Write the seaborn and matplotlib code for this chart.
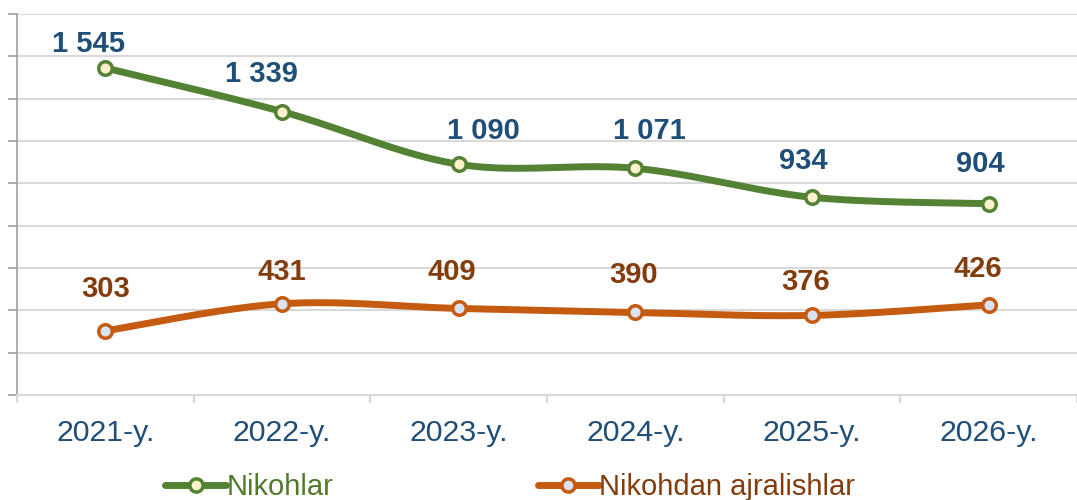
import numpy as np
import pandas as pd
import matplotlib
matplotlib.use("Agg")
import matplotlib.pyplot as plt
import seaborn as sns
from matplotlib.lines import Line2D

years = ["2021-y.", "2022-y.", "2023-y.", "2024-y.", "2025-y.", "2026-y."]
nikohlar = [1545, 1339, 1090, 1071, 934, 904]
ajralish = [303, 431, 409, 390, 376, 426]
series_names = ["Nikohlar", "Nikohdan ajralishlar"]

# label placement (pixel offsets from each point), layout only
label_dx = [[-17, -21, 25, 14, -9, -8], [0, 0, -7, -2, -6, -11]]
label_dy = [[24, 38, 33, 37, 36, 40], [42, 32, 36, 37, 33, 36]]

line_colors = ["#548235", "#C55A11"]
marker_fill = ["#FFF2CC", "#DAE3F3"]
label_colors = ["#1F4E79", "#843C0C"]
legend_text_colors = ["#4E7A2A", "#843C0C"]

sns.set_theme(style="white")
plt.rcParams['font.family'] = ['Liberation Sans', 'DejaVu Sans']

fig = plt.figure(figsize=(10.77, 5.0), dpi=100)
ax = fig.add_axes([17/1077, 1 - 395/500, 1 - 17/1077, (395 - 14)/500])


def catmull_rom(xv, yv, n=40):
    xv = np.asarray(xv, float)
    yv = np.asarray(yv, float)
    px = np.concatenate([[xv[0]], xv, [xv[-1]]])
    py = np.concatenate([[yv[0]], yv, [yv[-1]]])
    outx, outy = [], []
    t = np.linspace(0, 1, n)
    for i in range(1, len(px) - 2):
        p0, p1, p2, p3 = (np.array([px[j], py[j]]) for j in range(i - 1, i + 3))
        c1 = p1 + (p2 - p0) / 6.0
        c2 = p2 - (p3 - p1) / 6.0
        b = ((1 - t) ** 3)[:, None] * p1 + (3 * (1 - t) ** 2 * t)[:, None] * c1 \
            + (3 * (1 - t) * t ** 2)[:, None] * c2 + (t ** 3)[:, None] * p2
        outx.extend(b[:, 0])
        outy.extend(b[:, 1])
    return np.array(outx), np.array(outy)


xpos = np.arange(len(years))
ax.set_xlim(-0.5, len(years) - 0.5)
ax.set_ylim(0, 1800)

for k, vals in enumerate([nikohlar, ajralish]):
    sx, sy = catmull_rom(xpos, vals)
    df = pd.DataFrame({"x": sx, "y": sy})
    sns.lineplot(data=df, x="x", y="y", ax=ax, color=line_colors[k], lw=5.0,
                 sort=False, estimator=None, zorder=3)
    pts = pd.DataFrame({"x": xpos, "y": vals})
    sns.scatterplot(data=pts, x="x", y="y", ax=ax, s=95, color=marker_fill[k],
                    edgecolor=line_colors[k], linewidth=2.5, zorder=4)

for k, vals in enumerate([nikohlar, ajralish]):
    for i, (xi, v) in enumerate(zip(xpos, vals)):
        txt = f"{v:,}".replace(",", " ")
        ax.annotate(txt, (xi, v),
                    xytext=(label_dx[k][i] * 0.72, label_dy[k][i] * 0.72),
                    textcoords="offset points",
                    ha="center", va="center", fontsize=21, fontweight="bold",
                    color=label_colors[k], zorder=5, annotation_clip=False)

# grid / spines
ax.set_yticks(np.arange(0, 1801, 200))
ax.set_yticklabels([])
ax.yaxis.grid(True, color="#D9D9D9", lw=1.5)
ax.xaxis.grid(False)
ax.set_axisbelow(True)
for s in ["top", "right"]:
    ax.spines[s].set_visible(False)
ax.spines["left"].set_color("#A6A6A6")
ax.spines["left"].set_linewidth(1.3)
ax.spines["bottom"].set_color("#D9D9D9")
ax.spines["bottom"].set_linewidth(1.5)
ax.tick_params(axis="y", which="major", left=True, length=6.5, width=1.3, color="#A6A6A6")

ax.set_xticks(xpos)
ax.set_xticklabels(years, fontsize=21.8, color="#1F4E79")
ax.tick_params(axis="x", which="major", length=0, pad=17)
ax.set_xticks(np.arange(-0.5, len(years), 1.0), minor=True)
ax.tick_params(axis="x", which="minor", bottom=True, length=6, width=1.5, color="#D9D9D9")
ax.set_xlabel("")
ax.set_ylabel("")

handles = [Line2D([0], [0], color=line_colors[k], lw=5.0, marker="o", markersize=9.5,
                  markerfacecolor=marker_fill[k], markeredgecolor=line_colors[k],
                  markeredgewidth=2.5) for k in range(2)]
leg = fig.legend(handles, series_names, loc="center", bbox_to_anchor=(510/1077, 1 - 487/500),
                 ncol=2, frameon=False, fontsize=21, handlelength=2.1, handletextpad=0.0,
                 columnspacing=7.0, borderaxespad=0)
for t, c in zip(leg.get_texts(), legend_text_colors):
    t.set_color(c)

fig.savefig("out.png", dpi=100)
